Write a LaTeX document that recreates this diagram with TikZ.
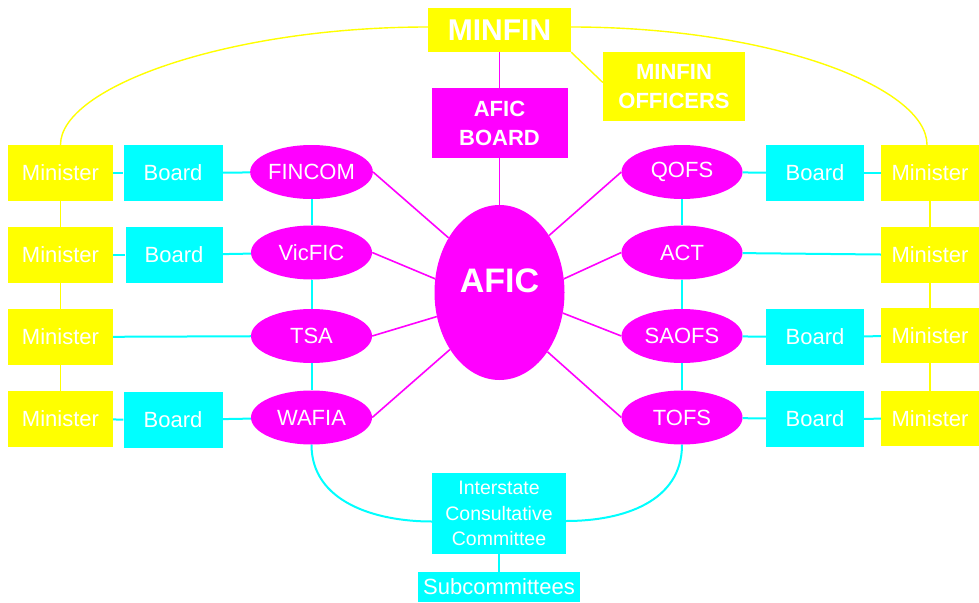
\documentclass[tikz,border=0pt]{standalone}
\usepackage{fontspec}
\setmainfont{Liberation Sans}
\usetikzlibrary{shapes.geometric}
\definecolor{yel}{HTML}{FFFF00}
\definecolor{cya}{HTML}{00FFFF}
\definecolor{mag}{HTML}{FF00FF}
\newcommand\fsz[2]{\fontsize{#1}{#2}\selectfont}
\begin{document}
\begin{tikzpicture}[x=1pt,y=-1pt,
  box/.style={rectangle,inner sep=0pt,align=center,text=white},
  ybox/.style={box,fill=yel},
  cbox/.style={box,fill=cya},
  mbox/.style={box,fill=mag},
  minbox/.style={ybox,minimum width=105pt,minimum height=56pt,font=\fsz{22}{26}},
  rminbox/.style={ybox,minimum width=98pt,minimum height=56pt,font=\fsz{22}{26}},
  brdbox/.style={cbox,minimum width=99pt,minimum height=56pt,font=\fsz{22}{26}},
  ell/.style={ellipse,fill=mag,inner sep=0pt,minimum width=121pt,minimum height=54pt,text=white,font=\fsz{22}{26}},
  cline/.style={draw=cya,line width=2pt},
  yline/.style={draw=yel,line width=1.4pt},
  mline/.style={draw=mag,line width=1.6pt}]
\useasboundingbox (0,0) rectangle (979,602);

% top
\node[ybox,minimum width=143pt,minimum height=44pt,font=\bfseries\fsz{30}{36}] (MINFIN) at (499.5,30) {MINFIN};
\node[ybox,minimum width=142pt,minimum height=69pt,font=\bfseries\fsz{22}{29}] (OFF) at (674,86.5) {MINFIN\\OFFICERS};
\node[mbox,minimum width=136pt,minimum height=70pt,font=\bfseries\fsz{22}{29}] (AB) at (499.5,123) {AFIC\\BOARD};
\node[ellipse,fill=mag,inner sep=0pt,minimum width=130pt,minimum height=175pt,
  label={[text=white,font=\bfseries\fsz{34}{40},yshift=11.5pt]center:AFIC}] (AFIC) at (499.5,292.5) {};

% left ellipses
\node[ell] (FINCOM) at (311.5,172) {FINCOM};
\node[ell] (VicFIC) at (311.5,252.5) {VicFIC};
\node[ell] (TSA) at (311.5,336) {TSA};
\node[ell] (WAFIA) at (311.5,417.5) {WAFIA};
% right ellipses
\node[ell] (QOFS) at (682,172) {QOFS};
\node[ell] (ACT) at (682,252.5) {ACT};
\node[ell] (SAOFS) at (682,336) {SAOFS};
\node[ell] (TOFS) at (682,417.5) {TOFS};

% left ministers and boards
\node[minbox] (LM1) at (60.5,173) {Minister};
\node[minbox] (LM2) at (60.5,255) {Minister};
\node[minbox] (LM3) at (60.5,337) {Minister};
\node[minbox] (LM4) at (60.5,419) {Minister};
\node[brdbox] (LB1) at (173,173) {Board};
\node[brdbox,minimum width=97pt] (LB2) at (174,255) {Board};
\node[brdbox] (LB4) at (173,420) {Board};

% right boards and ministers
\node[brdbox,minimum width=98pt] (RB1) at (815,173) {Board};
\node[brdbox,minimum width=98pt] (RB3) at (815,337) {Board};
\node[brdbox,minimum width=98pt] (RB4) at (815,419) {Board};
\node[rminbox] (RM1) at (930,173) {Minister};
\node[rminbox] (RM2) at (930,255) {Minister};
\node[rminbox,minimum height=55pt] (RM3) at (930,335.5) {Minister};
\node[rminbox,minimum height=55pt] (RM4) at (930,418.5) {Minister};

% bottom
\node[cbox,minimum width=134pt,minimum height=81pt,font=\fsz{19.5}{25.3}] (ICC) at (499,513.5) {Interstate\\Consultative\\Committee};
\node[cbox,minimum width=162pt,minimum height=30pt,font=\fsz{22}{26}] (SUB) at (499,587) {Subcommittees};

% magenta connectors
\draw[mline] (MINFIN) -- (AB);
\draw[mline] (AB) -- (AFIC);
\draw[mline] (FINCOM.east) -- (AFIC.133.6);
\draw[mline] (VicFIC.east) -- (AFIC.168);
\draw[mline] (TSA.east) -- (AFIC.201.6);
\draw[mline] (WAFIA.east) -- (AFIC.229.6);
\draw[mline] (QOFS.west) -- (AFIC.49.6);
\draw[mline] (ACT.west) -- (AFIC.12.8);
\draw[mline] (SAOFS.west) -- (AFIC.-18.8);
\draw[mline] (TOFS.west) -- (AFIC.-51.6);

% yellow connectors
\draw[yline] (MINFIN.south east) -- ([yshift=4pt]OFF.west);
\draw[yline] ([yshift=3pt]MINFIN.west) .. controls +(-199,0) and +(0,-58) .. ([xshift=0pt]LM1.north);
\draw[yline] ([yshift=3pt]MINFIN.east) .. controls +(199,0) and +(0,-58) .. ([xshift=-3pt]RM1.north);
\draw[yline] (LM1) -- (LM2);
\draw[yline] (LM2) -- (LM3);
\draw[yline] (LM3) -- (LM4);
\draw[yline] (RM1) -- (RM2);
\draw[yline] (RM2) -- (RM3);
\draw[yline] (RM3) -- (RM4);

% cyan connectors
\draw[cline] (LM1) -- (LB1);
\draw[cline] (LB1) -- (FINCOM);
\draw[cline] (LM2) -- (LB2);
\draw[cline] (LB2) -- (VicFIC);
\draw[cline] (LM3) -- (TSA);
\draw[cline] (LM4) -- (LB4);
\draw[cline] (LB4) -- (WAFIA);
\draw[cline] (QOFS) -- (RB1);
\draw[cline] (RB1) -- (RM1);
\draw[cline] (ACT) -- (RM2);
\draw[cline] (SAOFS) -- (RB3);
\draw[cline] (RB3) -- (RM3);
\draw[cline] (TOFS) -- (RB4);
\draw[cline] (RB4) -- (RM4);
\draw[cline] (FINCOM) -- (VicFIC);
\draw[cline] (VicFIC) -- (TSA);
\draw[cline] (TSA) -- (WAFIA);
\draw[cline] (QOFS) -- (ACT);
\draw[cline] (ACT) -- (SAOFS);
\draw[cline] (SAOFS) -- (TOFS);
\draw[cline] (WAFIA.south) .. controls +(0,57) and +(-57,0) .. ([yshift=-8pt]ICC.west);
\draw[cline] (TOFS.south) .. controls +(0,57) and +(57,0) .. ([yshift=-7.5pt]ICC.east);
\draw[cline] (ICC) -- (SUB);
\end{tikzpicture}
\end{document}
